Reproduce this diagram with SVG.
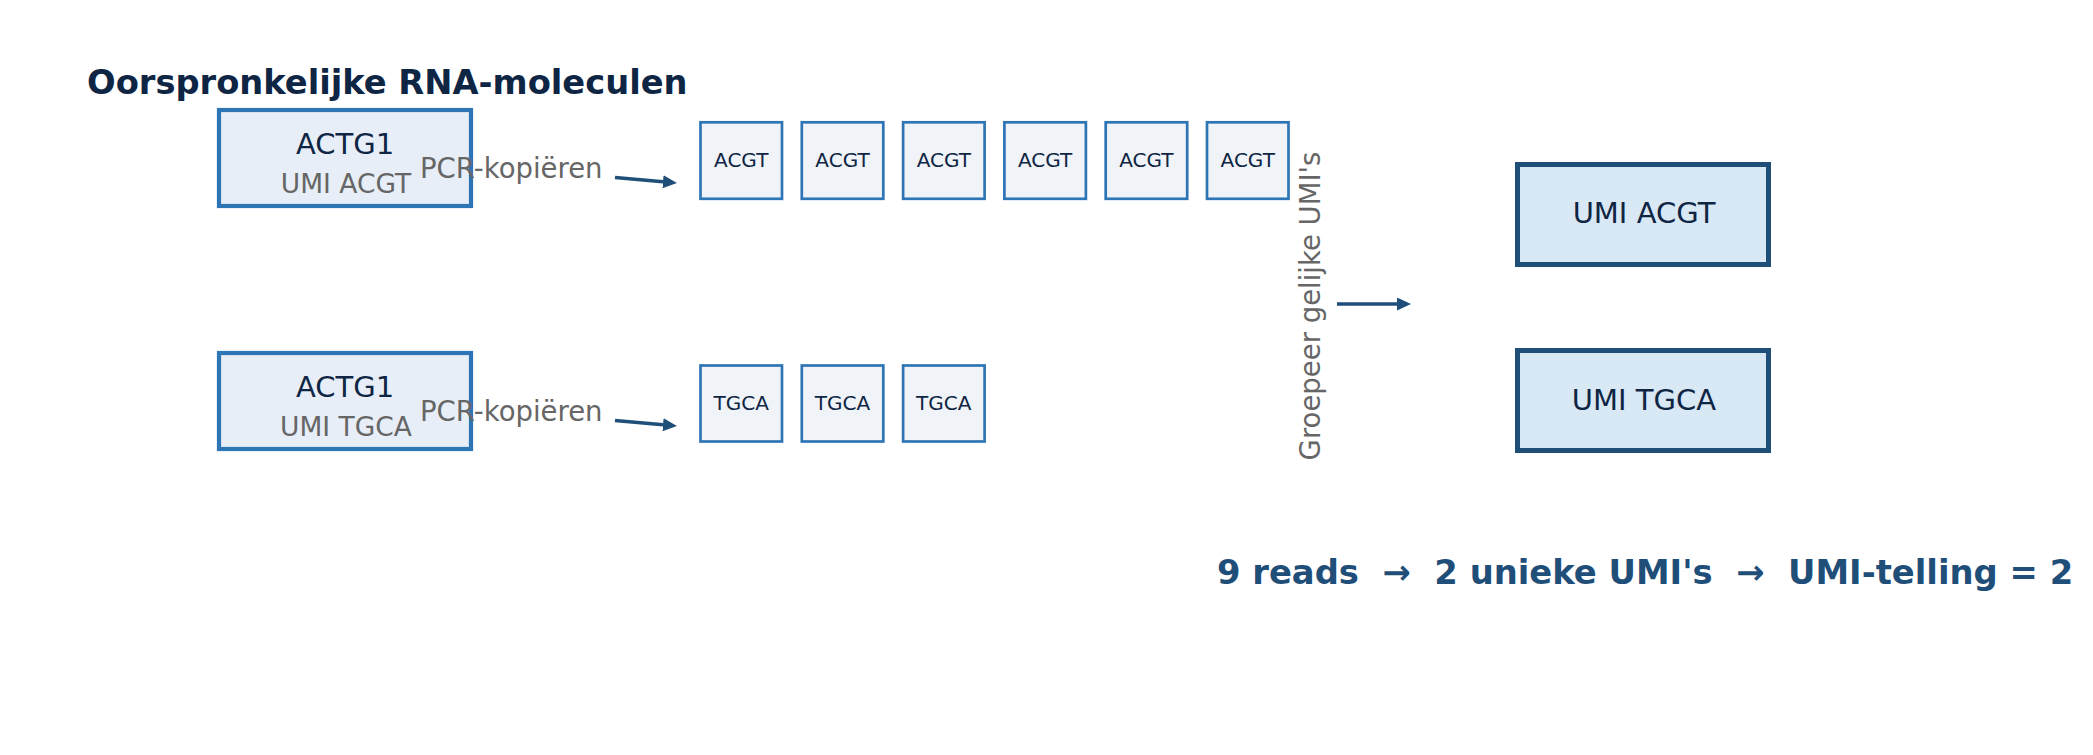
<svg xmlns="http://www.w3.org/2000/svg" width="2093" height="755" viewBox="0 0 2093 755">
<style>
text{font-family:"DejaVu Sans","Liberation Sans",sans-serif;}
.title{font-size:33.7px;font-weight:bold;fill:#0f2544;}
.src rect{fill:#e7eef7;stroke:#2e75b6;stroke-width:4.2;}
.src .main{font-size:29px;fill:#0f2544;text-anchor:middle;}
.src .sub{font-size:26.5px;fill:#666666;text-anchor:middle;}
.rd rect{fill:#f0f3f8;stroke:#2e75b6;stroke-width:2.7;}
.rd text{font-size:20px;fill:#0f2544;text-anchor:middle;}
.res rect{fill:#d9e8f5;stroke:#1f4e79;stroke-width:5;}
.res text{font-size:29px;fill:#0f2544;text-anchor:middle;}
.lbl{font-size:27.5px;fill:#666666;}
.conn line{stroke:#1f4e79;stroke-width:3.5;marker-end:url(#ah);}
.summary{font-size:33.8px;font-weight:bold;fill:#1f4e79;white-space:pre;}
</style>
<defs>
<marker id="ah" markerUnits="userSpaceOnUse" markerWidth="14" markerHeight="13" refX="0" refY="6.5" orient="auto" viewBox="0 0 14 13">
<path d="M0,0 L14,6.5 L0,13 z" fill="#1f4e79"/>
</marker>
</defs>
<rect width="2093" height="755" fill="#ffffff"/>
<text class="title" x="87" y="94">Oorspronkelijke RNA-moleculen</text>

<g id="mol1" class="src">
<rect x="219" y="110" width="252" height="96"/>
<text class="main" x="345" y="154">ACTG1</text>
<text class="sub" x="346" y="193">UMI ACGT</text>
</g>
<g id="mol2" class="src">
<rect x="219" y="353" width="252" height="96"/>
<text class="main" x="345" y="397">ACTG1</text>
<text class="sub" x="346" y="436">UMI TGCA</text>
</g>

<g id="reads-acgt" class="rd">
<g id="r1"><rect x="700.5" y="122.3" width="81.5" height="76.5"/><text x="741.2" y="167">ACGT</text></g>
<g id="r2"><rect x="801.8" y="122.3" width="81.5" height="76.5"/><text x="842.5" y="167">ACGT</text></g>
<g id="r3"><rect x="903.1" y="122.3" width="81.5" height="76.5"/><text x="943.8" y="167">ACGT</text></g>
<g id="r4"><rect x="1004.4" y="122.3" width="81.5" height="76.5"/><text x="1045.1" y="167">ACGT</text></g>
<g id="r5"><rect x="1105.7" y="122.3" width="81.5" height="76.5"/><text x="1146.4" y="167">ACGT</text></g>
<g id="r6"><rect x="1207" y="122.3" width="81.5" height="76.5"/><text x="1247.7" y="167">ACGT</text></g>
</g>
<g id="reads-tgca" class="rd">
<g id="r7"><rect x="700.5" y="365.5" width="81.5" height="76"/><text x="741.2" y="410">TGCA</text></g>
<g id="r8"><rect x="801.8" y="365.5" width="81.5" height="76"/><text x="842.5" y="410">TGCA</text></g>
<g id="r9"><rect x="903.1" y="365.5" width="81.5" height="76"/><text x="943.8" y="410">TGCA</text></g>
</g>

<g id="umi1" class="res">
<rect x="1517.5" y="164.5" width="251" height="100"/>
<text x="1644" y="223">UMI ACGT</text>
</g>
<g id="umi2" class="res">
<rect x="1517.5" y="350.5" width="251" height="100"/>
<text x="1644" y="410">UMI TGCA</text>
</g>

<g id="connectors" class="conn">
<line x1="615" y1="177.5" x2="663" y2="181.8"/>
<line x1="615" y1="420.5" x2="663" y2="424.8"/>
<line x1="1337" y1="304" x2="1397" y2="304"/>
</g>

<g id="labels">
<text class="lbl" x="420" y="178">PCR-kopiëren</text>
<text class="lbl" x="420" y="421">PCR-kopiëren</text>
<text class="lbl" font-size="28.5" transform="translate(1320,306) rotate(-90)" text-anchor="middle">Groepeer gelijke UMI's</text>
</g>

<text class="summary" x="1217" y="584" xml:space="preserve">9 reads  →  2 unieke UMI's  →  UMI-telling = 2</text>
</svg>
